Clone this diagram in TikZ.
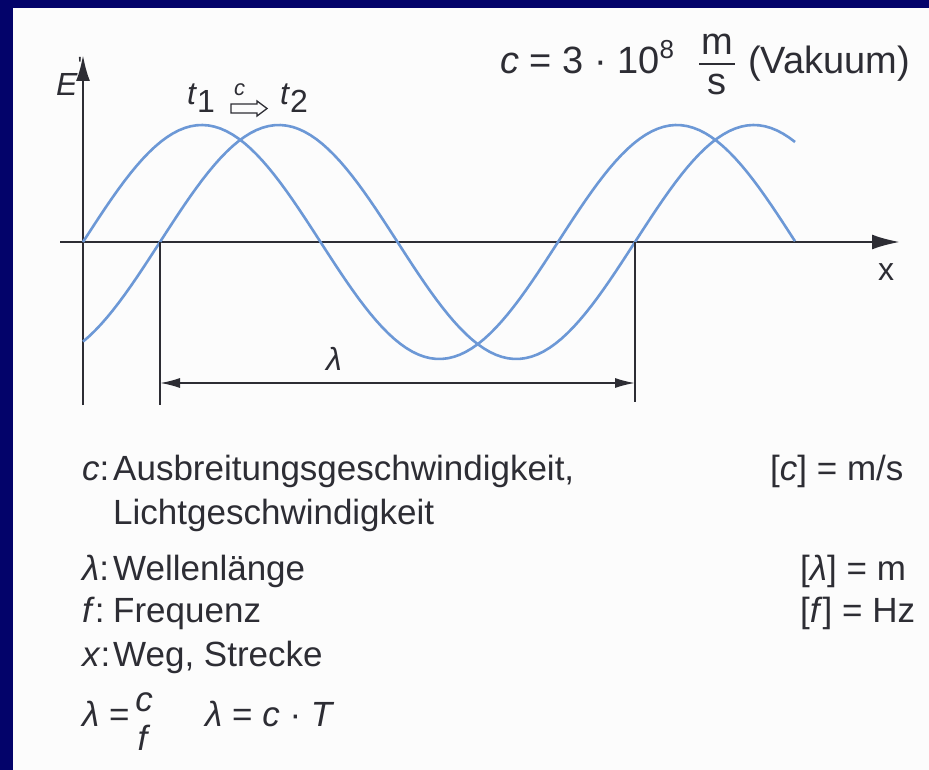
\documentclass[tikz,border=0pt]{standalone}
\usepackage{fontspec}
\setmainfont{Liberation Sans}
\usetikzlibrary{arrows.meta}
\definecolor{navy}{RGB}{3,3,106}
\definecolor{paper}{RGB}{252,252,252}
\definecolor{wave}{RGB}{108,152,214}
\definecolor{axiscol}{RGB}{45,45,52}
\newcommand{\txtsize}{\fontsize{35}{44}\selectfont}
\newcommand{\topsize}{\fontsize{38}{44}\selectfont}
\newcommand{\lblsize}{\fontsize{32}{36}\selectfont}

\begin{document}
\begin{tikzpicture}[x=1pt,y=-1pt,
  axisline/.style={draw=axiscol,line width=2.6pt},
  dimline/.style={draw=axiscol,line width=1.6pt},
  wavecurve/.style={draw=wave,line width=2.6pt},
  txt/.style={inner sep=0pt,anchor=base west,text=axiscol,font=\txtsize},
  toptxt/.style={txt,font=\topsize},
  lbl/.style={inner sep=0pt,anchor=base west,text=axiscol,font=\lblsize}]
\fill[navy] (0,0) rectangle (929,770);
\fill[paper] (13,8) rectangle (929,770);
\useasboundingbox (0,0) rectangle (929,770);

% axes
\coordinate (o) at (83,242);
\coordinate (ybot) at (83,405);
\coordinate (ytop) at (83,55);
\coordinate (xleft) at (60,242);
\coordinate (xright) at (900,242);
\draw[axisline,-{Latex[length=26pt,width=14pt]}] (ybot) -- (ytop);
\draw[axisline,-{Latex[length=28pt,width=15pt]}] (xleft) -- (xright);

% waves at t1 and t2
\draw[wavecurve] plot[domain=83:795,samples=120] (\x,{242-117*sin((\x-83)/475*360)});
\draw[wavecurve] plot[domain=83:795,samples=120] (\x,{242-117*sin((\x-160)/475*360)});

% wavelength
\coordinate (la) at (160,242);
\coordinate (lb) at (635,242);
\coordinate (la0) at (160,405);
\coordinate (lb0) at (635,402);
\coordinate (da) at (160,383);
\coordinate (db) at (635,383);
\draw[dimline] (la) -- (la0);
\draw[dimline] (lb) -- (lb0);
\draw[dimline,{Latex[length=20pt,width=10pt]}-{Latex[length=20pt,width=10pt]}] (da) -- (db);
\node[lbl] (lam) at (326,370) {\textit{λ}};

% labels
\node[lbl] (e) at (56,96) {\textit{E}\raisebox{0.72em}{\fontsize{22}{22}\selectfont\textquotesingle}};
\node[lbl] (x) at (878,280) {x};
\node[lbl] (t1) at (187,105) {\textit{t}\raisebox{-0.25em}{1}};
\node[lbl] (t2) at (280,105) {\textit{t}\raisebox{-0.25em}{2}};
\node[inner sep=0pt,anchor=base west,text=axiscol,font=\fontsize{22}{22}\selectfont] (cc) at (234,96) {\textit{c}};
\draw[axiscol,line width=1.3pt] (231,104) -- (257,104) -- (257,101) -- (267,108.5)
  -- (257,116) -- (257,113) -- (231,113) -- cycle;

% speed of light
\node[toptxt] (cval) at (500,74) {\textit{c} = 3 · 10\raisebox{0.42em}{\fontsize{26}{26}\selectfont 8}};
\node[toptxt,anchor=base] (cm) at (717,55) {m};
\node[toptxt,anchor=base] (cs) at (717,95) {s};
\draw[axiscol,line width=1.5pt] (699,64) -- (735,64);
\node[toptxt] (vak) at (748,74) {(Vakuum)};

% legend
\node[txt] (lc) at (82,480) {\textit{c}:};
\node[txt] (lct) at (113,480) {Ausbreitungsgeschwindigkeit,};
\node[txt] (lct2) at (113,524) {Lichtgeschwindigkeit};
\node[txt] (ll) at (82,580) {\textit{λ}:};
\node[txt] (llt) at (113,580) {Wellenlänge};
\node[txt] (lf) at (82,622) {\textit{f}:};
\node[txt] (lft) at (113,622) {Frequenz};
\node[txt] (lx) at (82,666) {\textit{x}:};
\node[txt] (lxt) at (113,666) {Weg, Strecke};
\node[txt] (uc) at (770,480) {[\textit{c}] = m/s};
\node[txt] (ul) at (800,580) {[\textit{λ}] = m};
\node[txt] (uf) at (800,622) {[\textit{f}] = Hz};

% formulas
\node[txt] (fl) at (82,726) {\textit{λ} =};
\node[txt,anchor=base] (fc) at (144,711) {\textit{c}};
\node[txt,anchor=base] (ff) at (144,750) {\textit{f}};
\node[txt] (fct) at (205,726) {\textit{λ} = \textit{c} · \textit{T}};
\end{tikzpicture}
\end{document}
